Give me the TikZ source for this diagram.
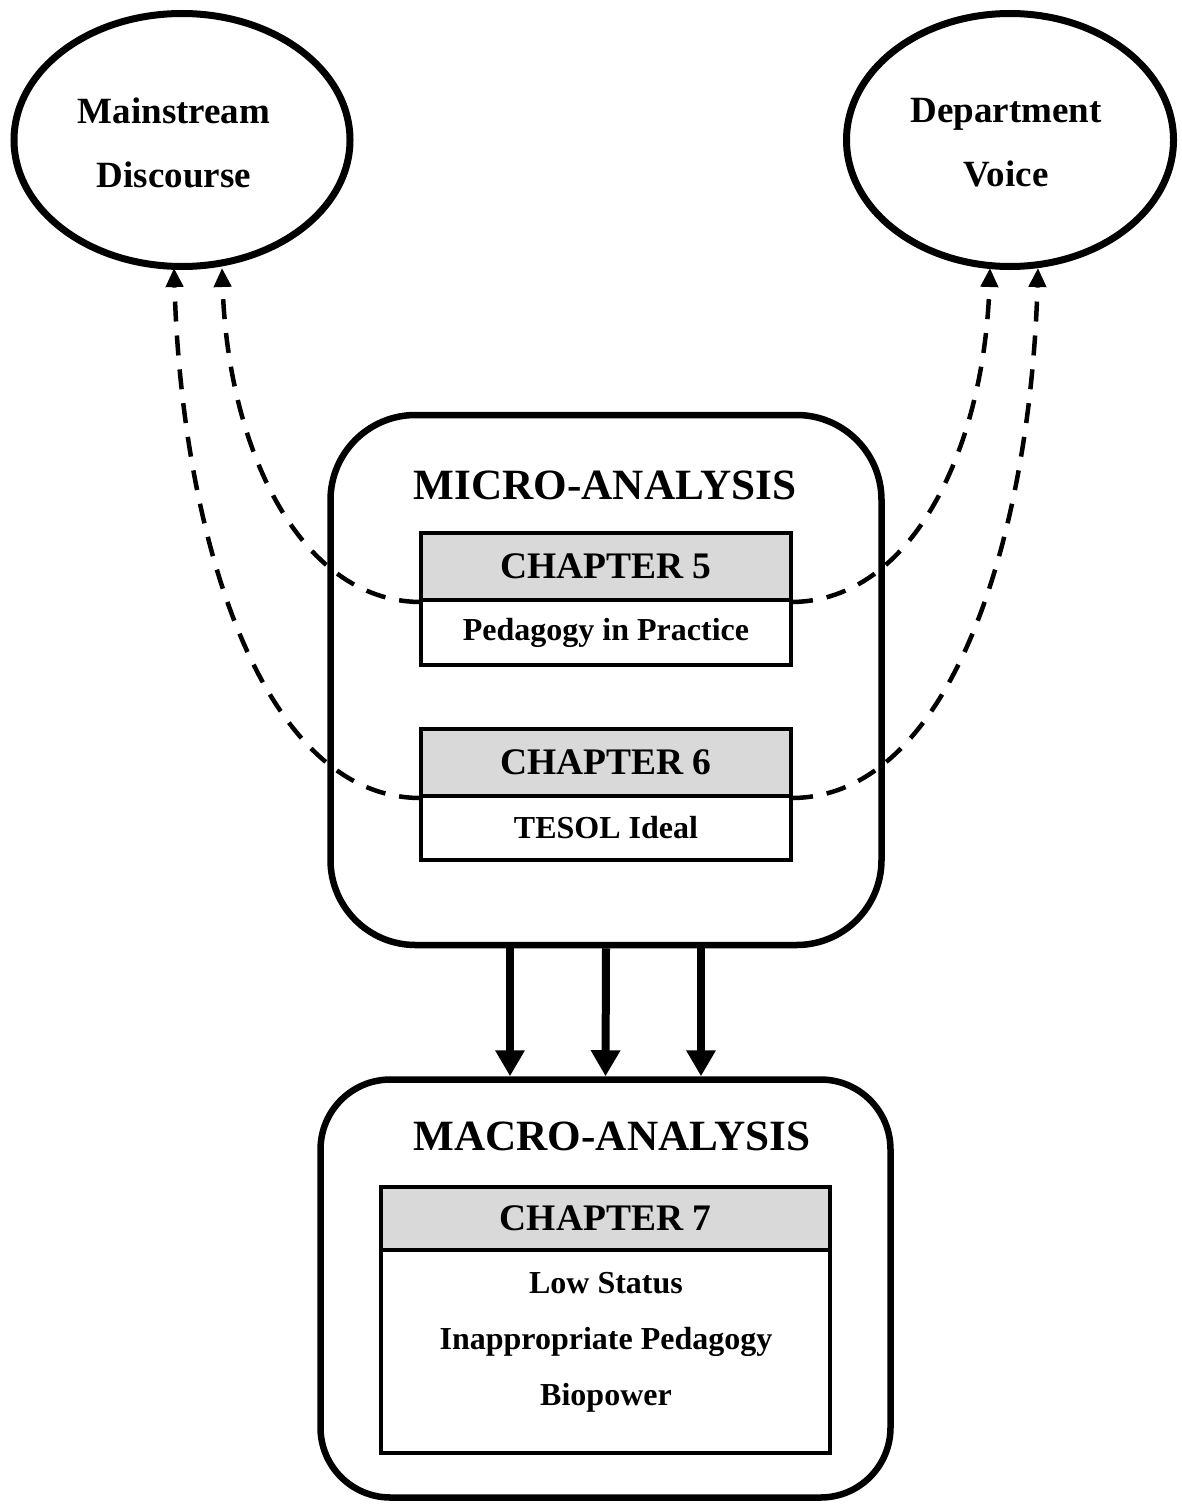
\documentclass[tikz,border=0pt]{standalone}
\usepackage{fontspec}
\setmainfont{Liberation Serif}
\usetikzlibrary{shapes.geometric,arrows.meta}
\definecolor{hdrgray}{HTML}{D9D9D9}
\tikzset{
  oval/.style={ellipse,draw,line width=7pt,minimum width=336pt,minimum height=253pt,inner sep=0pt},
  ovaltext/.style={align=center,font=\fontsize{37}{64}\selectfont\bfseries},
  bigbox/.style={draw,line width=6.5pt,rounded corners=85pt,inner sep=0pt},
  boxtitle/.style={font=\fontsize{43.2}{50}\selectfont\bfseries},
  hdr/.style={draw,line width=4pt,fill=hdrgray,inner sep=0pt,font=\fontsize{37.5}{44}\selectfont\bfseries},
  bodybox/.style={draw,line width=4pt,fill=white,inner sep=0pt,font=\fontsize{32}{38}\selectfont\bfseries},
  bodytext/.style={align=center,font=\fontsize{32}{56}\selectfont\bfseries},
  flow/.style={line width=8pt,-{Triangle[width=28pt,length=26pt]}},
  feedback/.style={line width=4.5pt,dash pattern=on 20pt off 14pt,-{Triangle[width=17pt,length=19pt]}},
}
\begin{document}
\begin{tikzpicture}[x=1pt,y=-1pt]
\useasboundingbox[fill=white] (0,0) rectangle (1182,1504);
% ellipses
\node[oval] (ms) at (182,140) {};
\node[ovaltext] (mstext) at (174,143) {Mainstream\\Discourse};
\node[oval,minimum width=327pt] (dv) at (1010,140) {};
\node[ovaltext] (dvtext) at (1006,143) {Department\\Voice};
% micro box
\node[bigbox,minimum width=551pt,minimum height=530pt] (micro) at (606,680) {};
\node[boxtitle] (microtitle) at (605,485) {MICRO-ANALYSIS};
\node[hdr,minimum width=370pt,minimum height=67pt] (ch5h) at (606,566.5) {CHAPTER 5};
\node[bodybox,minimum width=370pt,minimum height=65pt] (ch5b) at (606,632.5) {Pedagogy in Practice};
\node[hdr,minimum width=370pt,minimum height=67pt] (ch6h) at (606,762.5) {CHAPTER 6};
\node[bodybox,minimum width=370pt,minimum height=64pt] (ch6b) at (606,828) {TESOL Ideal};
% macro box
\node[bigbox,rounded corners=70pt,minimum width=570pt,minimum height=418pt] (macro) at (605.5,1288.5) {};
\node[boxtitle] (macrotitle) at (612,1136) {MACRO-ANALYSIS};
\node[hdr,minimum width=449pt,minimum height=63pt] (ch7h) at (605.5,1218.5) {CHAPTER 7};
\node[bodybox,minimum width=449pt,minimum height=203pt] (ch7b) at (605.5,1351.5) {};
\node[bodytext] (ch7t) at (606,1342) {Low Status\\Inappropriate Pedagogy\\Biopower};
% thick arrows
\draw[flow] ([xshift=-96pt]micro.south) -- ([xshift=-95.5pt]macro.north);
\draw[flow] (micro.south) -- (macro.north);
\draw[flow] ([xshift=95pt]micro.south) -- ([xshift=95.5pt]macro.north);
% dashed feedback curves
\draw[feedback] (ch5h.south west) .. controls (300,600) and (228,450) .. ([xshift=40pt,yshift=2pt]ms.south);
\draw[feedback] (ch6h.south west) .. controls (262,796) and (182,540) .. ([xshift=-8pt,yshift=2pt]ms.south);
\draw[feedback] (ch5h.south east) .. controls (912,600) and (984,450) .. ([xshift=-20pt,yshift=2pt]dv.south);
\draw[feedback] (ch6h.south east) .. controls (950,796) and (1030,540) .. ([xshift=28pt,yshift=2pt]dv.south);
\end{tikzpicture}
\end{document}
